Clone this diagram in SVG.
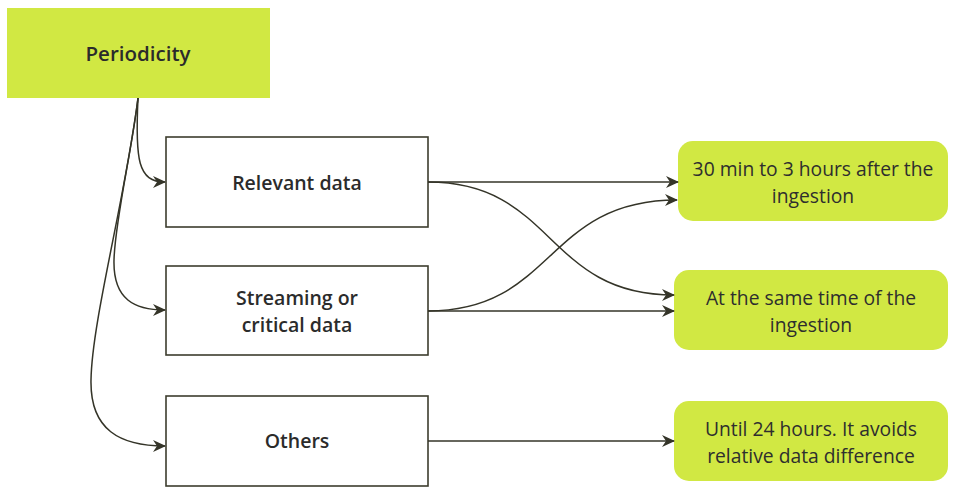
<svg xmlns="http://www.w3.org/2000/svg" width="954" height="494" viewBox="0 0 954 494">
<defs>
<style>
.lime{fill:#d1e843;}
.box{fill:#ffffff;stroke:#3d3d2e;stroke-width:1.6;}
.bold{font-family:"Open Sans","Liberation Sans",sans-serif;font-weight:600;font-size:19.5px;fill:#2b2b2b;text-anchor:middle;}
.reg{font-family:"Open Sans","Liberation Sans",sans-serif;font-size:19.3px;fill:#2e2e2e;text-anchor:middle;}
.c{fill:none;stroke:#343428;stroke-width:1.5;}
</style>
<marker id="ah" markerWidth="14" markerHeight="12" refX="12" refY="6" orient="auto" markerUnits="userSpaceOnUse">
<path d="M0,0 L13,6 L0,12 L4,6 z" fill="#343428"/>
</marker>
</defs>
<rect width="954" height="494" fill="#ffffff"/>
<g id="periodicity">
<rect class="lime" x="7" y="8" width="263" height="90"/>
<text class="bold" x="138" y="61" style="font-size:20.5px">Periodicity</text>
</g>
<g id="relevant">
<rect class="box" x="166" y="137" width="262" height="90"/>
<text class="bold" x="297" y="190">Relevant data</text>
</g>
<g id="streaming">
<rect class="box" x="166" y="266" width="262" height="89"/>
<text class="bold" x="297" y="305">Streaming or</text>
<text class="bold" x="297" y="332">critical data</text>
</g>
<g id="others">
<rect class="box" x="166" y="396" width="262" height="90"/>
<text class="bold" x="297" y="448">Others</text>
</g>
<g id="r1">
<rect class="lime" x="678" y="141" width="270" height="80" rx="15"/>
<text class="reg" x="813" y="176">30 min to 3 hours after the</text>
<text class="reg" x="813" y="203">ingestion</text>
</g>
<g id="r2">
<rect class="lime" x="674" y="270" width="274" height="80" rx="15"/>
<text class="reg" x="811" y="305">At the same time of the</text>
<text class="reg" x="811" y="332">ingestion</text>
</g>
<g id="r3">
<rect class="lime" x="674" y="401" width="274" height="80" rx="15"/>
<text class="reg" x="811" y="436">Until 24 hours. It avoids</text>
<text class="reg" x="811" y="463">relative data difference</text>
</g>
<g id="connectors">
<path class="c" marker-end="url(#ah)" d="M138,98 C135,160 138,182 165,182"/>
<path class="c" marker-end="url(#ah)" d="M138,98 C132,150 115,220 114,260 C113,300 135,310 165,310"/>
<path class="c" marker-end="url(#ah)" d="M138,98 C125,200 92,320 91,380 C90,430 120,446 165,446"/>
<path class="c" marker-end="url(#ah)" d="M428,182 L678,182"/>
<path class="c" marker-end="url(#ah)" d="M428,182 C555,182 545,295 674,295"/>
<path class="c" marker-end="url(#ah)" d="M428,311 C555,311 545,200 677,200"/>
<path class="c" marker-end="url(#ah)" d="M428,311 L674,311"/>
<path class="c" marker-end="url(#ah)" d="M428,441 L674,441"/>
</g>
</svg>
